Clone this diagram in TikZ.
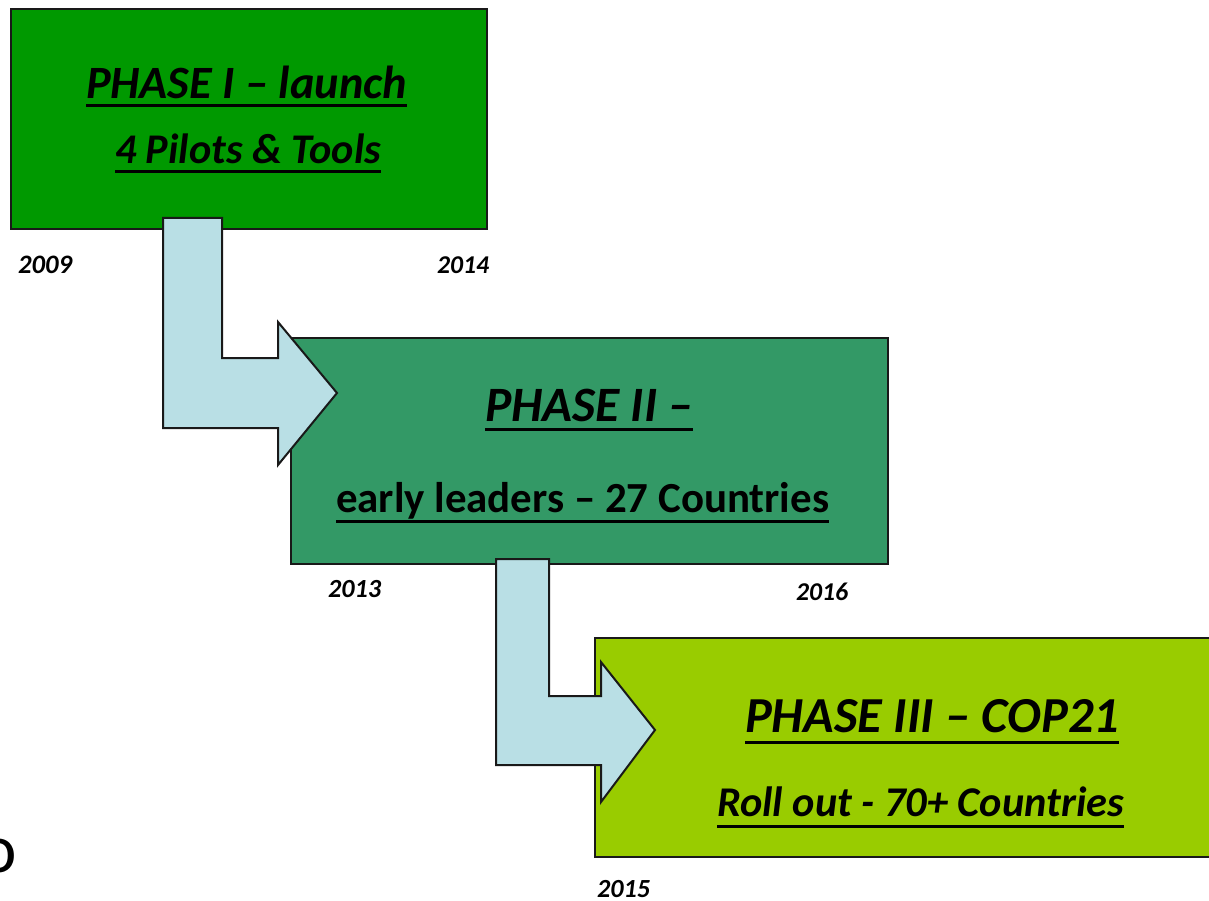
\documentclass[tikz,border=0pt]{standalone}
\usepackage{fontspec}
\setmainfont{Carlito}
\usepackage{graphicx}
\definecolor{gA}{RGB}{0,153,0}
\definecolor{gB}{RGB}{51,153,102}
\definecolor{gC}{RGB}{153,204,0}
\definecolor{arr}{RGB}{185,223,229}
\definecolor{edge}{RGB}{25,25,25}
\tikzset{
  phasebox/.style={draw=edge, line width=2pt, inner sep=0, outer sep=0, anchor=north west},
  blockarrow/.style={draw=edge, line width=2pt, fill=arr, line join=miter},
  lbl/.style={inner sep=0, outer sep=0, anchor=base west, font=\bfseries\itshape},
  lblup/.style={inner sep=0, outer sep=0, anchor=base west, font=\bfseries},
  yr/.style={inner sep=0, outer sep=0, anchor=base west, font=\bfseries\itshape},
  uline/.style={line width=3pt, draw=black}
}
\begin{document}
\begin{tikzpicture}[x=1pt, y=-1pt]
\useasboundingbox (0,0) rectangle (1209,901);
% boxes
\node[phasebox, fill=gA, minimum width=476pt, minimum height=220pt] (p1) at (11,9) {};
\node[phasebox, fill=gB, minimum width=597pt, minimum height=226pt] (p2) at (291,338) {};
\node[phasebox, fill=gC, minimum width=630pt, minimum height=219pt] (p3) at (595,638) {};
% block arrows
\draw[blockarrow] (163,218) -- (222,218) -- (222,358) -- (278,358) -- (278,322)
  -- (337,393) -- (278,465) -- (278,428) -- (163,428) -- cycle;
\draw[blockarrow] (496,559) -- (549,559) -- (549,696) -- (601,696) -- (601,662)
  -- (655,730) -- (601,802) -- (601,765) -- (496,765) -- cycle;
% texts phase 1
\node[lbl] (t1a) at (86,99) {\resizebox{321pt}{!}{PHASE I – launch}};
\node[lbl] (t1b) at (115,164) {\resizebox{266pt}{!}{4 Pilots \& Tools}};
\draw[uline] ([yshift=-7pt]t1a.base west) -- ([yshift=-7pt]t1a.base east);
\draw[uline] ([yshift=-8pt]t1b.base west) -- ([yshift=-8pt]t1b.base east);
% texts phase 2
\node[lbl] (t2a) at (485,421) {\resizebox{208pt}{!}{PHASE II –}};
\node[lblup] (t2b) at (336,512) {\resizebox{493pt}{!}{early leaders – 27 Countries}};
\draw[uline] ([yshift=-8pt]t2a.base west) -- ([yshift=-8pt]t2a.base east);
\draw[uline] ([yshift=-9pt]t2b.base west) -- ([yshift=-9pt]t2b.base east);
% texts phase 3
\node[lbl] (t3a) at (745,732) {\resizebox{374pt}{!}{PHASE III – COP21}};
\node[lbl] (t3b) at (717,816) {\resizebox{407pt}{!}{Roll out - 70+ Countries}};
\draw[uline] ([yshift=-10pt]t3a.base west) -- ([yshift=-10pt]t3a.base east);
\draw[uline] ([yshift=-10pt]t3b.base west) -- ([yshift=-10pt]t3b.base east);
% years
\node[yr] (y1) at (18,273) {\resizebox{54pt}{!}{2009}};
\node[yr] (y2) at (437,273) {\resizebox{52pt}{!}{2014}};
\node[yr] (y3) at (328,597) {\resizebox{53pt}{!}{2013}};
\node[yr] (y4) at (796,600) {\resizebox{52pt}{!}{2016}};
\node[yr] (y5) at (597,897) {\resizebox{53pt}{!}{2015}};
% clipped stray letter
\node[inner sep=0, outer sep=0, anchor=base east, font=\fontsize{69}{69}\selectfont] (o) at (17,872) {o};
\end{tikzpicture}
\end{document}
